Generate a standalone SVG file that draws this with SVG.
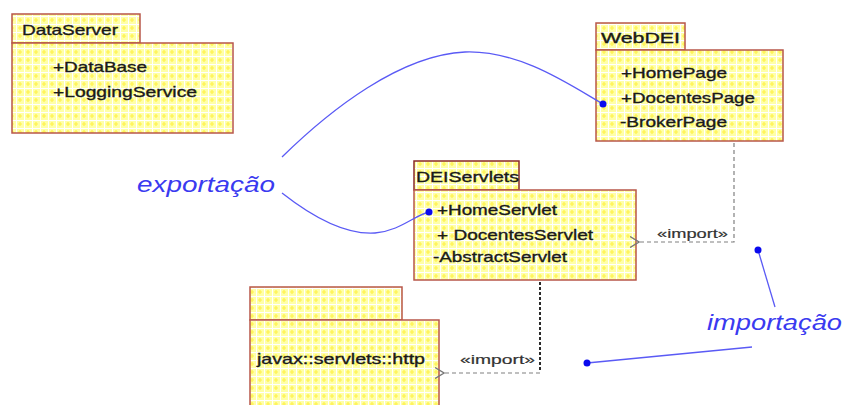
<svg xmlns="http://www.w3.org/2000/svg" width="844" height="405" viewBox="0 0 844 405">
<defs>
<pattern id="grid" width="8" height="8" patternUnits="userSpaceOnUse">
<rect width="8" height="8" fill="#ffffa8"/>
<path d="M4 2V6M2 4H6" stroke="#fff24a" stroke-width="1.2"/>
<path d="M0 0.5H8M0.5 0V8" stroke="#ffffff" stroke-width="1"/>
</pattern>
<marker id="open" viewBox="0 0 10 12" refX="1" refY="6" markerWidth="10" markerHeight="12" orient="auto" markerUnits="userSpaceOnUse">
<path d="M10 0.5L1 6L10 11.5" fill="none" stroke="#777" stroke-width="1.3"/>
</marker>
</defs>
<style>
.pk{fill:url(#grid);stroke:#b8574a;stroke-width:1.5}
.t{font-family:"Liberation Sans",Arial,sans-serif;font-size:15px;fill:#1a1a1a;stroke:#1a1a1a;stroke-width:0.35}
.lbl{font-family:"Liberation Sans",Arial,sans-serif;font-size:13px;fill:#333;stroke:#333;stroke-width:0.2}
.note{font-family:"Liberation Sans",Arial,sans-serif;font-size:22px;font-style:italic;fill:#3a3af0}
.blue{fill:none;stroke:#5a5af5;stroke-width:1.3}
.dot{fill:#0a0aee}
.dep{fill:none;stroke:#808080;stroke-width:1.2;stroke-dasharray:4 3}
</style>

<g id="DataServer">
<rect class="pk" x="12" y="14" width="128" height="29"/>
<rect class="pk" x="12" y="43" width="221" height="90"/>
<text class="t" x="22" y="35" textLength="96" lengthAdjust="spacingAndGlyphs">DataServer</text>
<text class="t" x="53" y="72" textLength="94" lengthAdjust="spacingAndGlyphs">+DataBase</text>
<text class="t" x="53" y="97" textLength="144" lengthAdjust="spacingAndGlyphs">+LoggingService</text>
</g>

<g id="WebDEI">
<rect class="pk" x="596" y="23" width="89" height="27"/>
<rect class="pk" x="596" y="50" width="187" height="91"/>
<text class="t" x="601" y="43" textLength="79" lengthAdjust="spacingAndGlyphs">WebDEI</text>
<text class="t" x="621" y="78" textLength="106" lengthAdjust="spacingAndGlyphs">+HomePage</text>
<text class="t" x="621" y="103" textLength="134" lengthAdjust="spacingAndGlyphs">+DocentesPage</text>
<text class="t" x="620" y="127" textLength="107" lengthAdjust="spacingAndGlyphs">-BrokerPage</text>
</g>

<g id="DEIServlets">
<rect class="pk" x="414" y="161" width="105" height="29" style="stroke:#8a2a28"/>
<rect class="pk" x="414" y="190" width="222" height="90"/>
<text class="t" x="416" y="182" textLength="103" lengthAdjust="spacingAndGlyphs">DEIServlets</text>
<text class="t" x="437" y="215" textLength="120" lengthAdjust="spacingAndGlyphs">+HomeServlet</text>
<text class="t" x="437" y="240" textLength="156" lengthAdjust="spacingAndGlyphs">+ DocentesServlet</text>
<text class="t" x="433" y="262" textLength="134" lengthAdjust="spacingAndGlyphs">-AbstractServlet</text>
</g>

<g id="javax">
<rect class="pk" x="250" y="287" width="152" height="33"/>
<rect class="pk" x="250" y="320" width="189" height="90"/>
<text class="t" x="257" y="364" textLength="168" lengthAdjust="spacingAndGlyphs">javax::servlets::http</text>
</g>

<g id="connectors">
<path class="dep" d="M734 143V242H639" marker-end="url(#open)"/>
<text class="lbl" x="657" y="238" textLength="71" lengthAdjust="spacingAndGlyphs">«import»</text>
<path d="M540 282V372" fill="none" stroke="#2a2a2a" stroke-width="2" stroke-dasharray="3 2"/>
<path class="dep" d="M540 373H444" marker-end="url(#open)"/>
<text class="lbl" x="460" y="364" textLength="75" lengthAdjust="spacingAndGlyphs">«import»</text>
</g>

<g id="exportacao">
<path class="blue" d="M282 157C330 110 400 55 465 52C520 50 570 85 603 104"/>
<path class="blue" d="M282 193C310 215 345 235 375 233C400 231 415 215 429 212"/>
<circle class="dot" cx="603" cy="104" r="3.5"/>
<circle class="dot" cx="429" cy="212" r="3.5"/>
<text class="note" x="137" y="192" textLength="138" lengthAdjust="spacingAndGlyphs">exportação</text>
</g>

<g id="importacao">
<path class="blue" d="M758 250L775 307"/>
<path class="blue" d="M752 347L587 363"/>
<circle class="dot" cx="758" cy="250" r="3.5"/>
<circle class="dot" cx="587" cy="363" r="3.5"/>
<text class="note" x="707" y="330" textLength="135" lengthAdjust="spacingAndGlyphs">importação</text>
</g>
</svg>
